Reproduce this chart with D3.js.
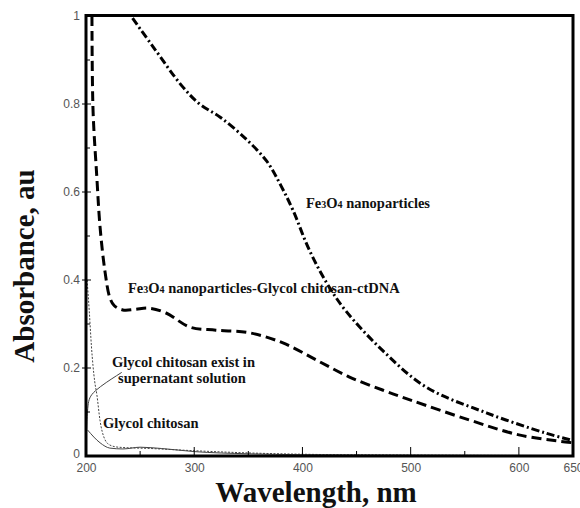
<!DOCTYPE html>
<html><head><meta charset="utf-8">
<script src="https://cdn.jsdelivr.net/npm/d3@7"></script>
<style>body{margin:0;background:#fff}svg{display:block}</style>
</head><body><svg id="c" width="580" height="508"></svg>
<script>
// Data
const fe3o4WL  = [243,262,289,305,324,348,367,380,391,406,422,440,474,514,570,625,650];
const fe3o4Abs = [0.995,0.93,0.84,0.80,0.77,0.72,0.67,0.615,0.56,0.47,0.395,0.33,0.24,0.157,0.098,0.052,0.035];
const ctdnaWL  = [205.5,206.5,210,213,217.5,222,226,234,245,258,274,296,320,351,382,413,443,474,500,554,600,643,650];
const ctdnaAbs = [1.0,0.786,0.634,0.52,0.42,0.36,0.342,0.332,0.333,0.336,0.325,0.293,0.286,0.28,0.257,0.218,0.18,0.15,0.127,0.082,0.048,0.032,0.03];
const gcWL  = [201,203,205,208,210,213,217,222,230,260,300,350,400,500,650];
const gcAbs = [0.40,0.33,0.25,0.17,0.14,0.08,0.04,0.025,0.02,0.017,0.012,0.007,0.004,0.002,0.001];
const supWL  = [201.5,213,222,234,250,270,300,350,400,500,650];
const supAbs = [0.059,0.03,0.018,0.016,0.02,0.017,0.01,0.005,0.003,0.002,0.001];
const xTicks = [200,300,400,500,600,650];
const xMinor = [250,350,450,550];
const yTicks = [0,0.2,0.4,0.6,0.8,1];
const yMinor = [0.1,0.3,0.5,0.7,0.9];
const labels = [
  {t:["Fe","3","O","4"," nanoparticles"], x:403.3, y:0.5636},
  {t:["Fe","3","O","4"," nanoparticles-Glycol chitosan-ctDNA"], x:238.8, y:0.3705},
  {t:["Glycol chitosan exist in"], x:224, y:0.2023},
  {t:["supernatant solution"], x:229.6, y:0.166},
  {t:["Glycol chitosan"], x:215.7, y:0.0636}
];
const leaderWL  = [200.6,201.5,204.5,233];
const leaderAbs = [0.058,0.12,0.145,0.19];

const svg = d3.select("#c");
const x = d3.scaleLinear().domain([200,650]).range([86,573]);
const y = d3.scaleLinear().domain([0,1]).range([456,16]);

svg.append("clipPath").attr("id","clip").append("rect")
  .attr("x",86).attr("y",16).attr("width",487).attr("height",440);

const line = d3.line().x(d=>x(d[0])).y(d=>y(d[1])).curve(d3.curveMonotoneX);
const smooth = d3.line().x(d=>x(d[0])).y(d=>y(d[1])).curve(d3.curveCatmullRom.alpha(0.5));
const g = svg.append("g").attr("clip-path","url(#clip)");
const z = (a,b)=>a.map((v,i)=>[v,b[i]]);

g.append("path").attr("d",line(z(supWL,supAbs))).attr("fill","none")
  .attr("stroke","#444").attr("stroke-width",1);
g.append("path").attr("d",line(z(gcWL,gcAbs))).attr("fill","none")
  .attr("stroke","#444").attr("stroke-width",1).attr("stroke-dasharray","2,1.5");
g.append("path").attr("d",smooth(z(ctdnaWL,ctdnaAbs))).attr("fill","none")
  .attr("stroke","#000").attr("stroke-width",3).attr("stroke-dasharray","10,5");
g.append("path").attr("d",smooth(z(fe3o4WL,fe3o4Abs))).attr("fill","none")
  .attr("stroke","#000").attr("stroke-width",3).attr("stroke-dasharray","8,3,2,3");
g.append("path").attr("d",d3.line().x(d=>x(d[0])).y(d=>y(d[1])).curve(d3.curveBasis)(z(leaderWL,leaderAbs)))
  .attr("fill","none").attr("stroke","#444").attr("stroke-width",1);

// tick labels
const xAxis = d3.axisBottom(x).tickValues(xTicks).tickSize(0).tickPadding(6).tickFormat(d3.format("d"));
const ax = svg.append("g").attr("transform","translate(0,457)").call(xAxis);
ax.select(".domain").remove();
ax.selectAll("text").attr("font-family","Liberation Sans, Arial").attr("font-size",12).attr("fill","#555");
const yAxis = d3.axisLeft(y).tickValues(yTicks).tickSize(0).tickPadding(6).tickFormat(d=>d===0||d===1?d3.format("d")(d):d3.format(".1f")(d));
const ay = svg.append("g").attr("transform","translate(86,0)").call(yAxis);
ay.select(".domain").remove();
ay.selectAll("text").attr("font-family","Liberation Sans, Arial").attr("font-size",12).attr("fill","#555");
ay.selectAll(".tick").filter(d=>d===0).select("text").attr("dy","0.1em");

svg.append("g").selectAll("line").data(xTicks.slice(1,-1)).join("line")
  .attr("x1",d=>x(d)).attr("x2",d=>x(d)).attr("y1",456).attr("y2",447).attr("stroke","#000").attr("stroke-width",1);
svg.append("g").selectAll("line").data(xMinor).join("line")
  .attr("x1",d=>x(d)).attr("x2",d=>x(d)).attr("y1",456).attr("y2",451).attr("stroke","#000").attr("stroke-width",1);
svg.append("g").selectAll("line").data(yTicks.slice(1,-1)).join("line")
  .attr("x1",82).attr("x2",91).attr("y1",d=>y(d)).attr("y2",d=>y(d)).attr("stroke","#000").attr("stroke-width",1);
svg.append("g").selectAll("line").data(yMinor).join("line")
  .attr("x1",86).attr("x2",90).attr("y1",d=>y(d)).attr("y2",d=>y(d)).attr("stroke","#000").attr("stroke-width",1);

// frame
svg.append("rect").attr("x",86).attr("y",15.5).attr("width",487).attr("height",440.5)
  .attr("fill","none").attr("stroke","#000").attr("stroke-width",3);

// annotations
labels.forEach(l=>{
  const t = svg.append("text").attr("x",x(l.x)).attr("y",y(l.y))
    .attr("font-family","Liberation Serif, Times New Roman").attr("font-weight","bold")
    .attr("font-size",14.5).attr("fill","#111");
  l.t.forEach(s=>{
    const sub = (s==="3"||s==="4");
    t.append("tspan").text(s).attr("font-size",sub?10:14.5);
  });
});

// axis titles
svg.append("text").attr("x",316).attr("y",502).attr("text-anchor","middle")
  .attr("font-family","Liberation Serif, Times New Roman").attr("font-weight","bold")
  .attr("font-size",29).attr("fill","#111").text("Wavelength, nm");
svg.append("text").attr("transform","translate(34,266) rotate(-90)").attr("text-anchor","middle")
  .attr("font-family","Liberation Serif, Times New Roman").attr("font-weight","bold")
  .attr("font-size",29).attr("fill","#111").text("Absorbance, au");
</script></body></html>
